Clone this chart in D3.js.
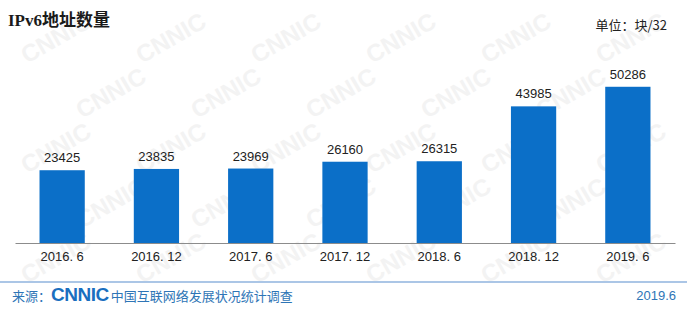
<!DOCTYPE html>
<html><head><meta charset="utf-8">
<script src="https://cdn.jsdelivr.net/npm/d3@7"></script>
<style>body{margin:0;background:#fff}svg{display:block}</style>
</head><body>
<svg id="c" width="700" height="317"></svg>
<script>
const categories = ["2016. 6","2016. 12","2017. 6","2017. 12","2018. 6","2018. 12","2019. 6"];
const values = [23425,23835,23969,26160,26315,43985,50286];
const title = "IPv6地址数量";
const unitLabel = "单位：块/32";
const sourceLabel = "来源：";
const sourceName = "中国互联网络发展状况统计调查";
const dateLabel = "2019.6";

const svg = d3.select("#c");

// faint watermark
const wm = svg.append("g").attr("fill","#f3f3f3").attr("font-family","Arial, sans-serif").attr("font-weight","bold").attr("font-size",24).attr("text-anchor","middle");
for (let r=0;r<5;r++){
  for (let c=0;c<6;c++){
    const cx = 60 + c*115 + (r%2)*55, cy = 45 + r*55;
    if (cx > 650) continue;
    wm.append("text").attr("transform",`translate(${cx},${cy}) rotate(-30)`).text("CNNIC");
  }
}

const x = d3.scaleBand().domain(categories).range([15,675]).paddingInner(0.52).paddingOuter(0.26);
const y = d3.scaleLinear().domain([0,60000]).range([243,56.6]);

svg.append("g").selectAll("rect").data(values).join("rect")
  .attr("x",(d,i)=>x(categories[i]))
  .attr("y",d=>y(d))
  .attr("width",x.bandwidth())
  .attr("height",d=>y(0)-y(d))
  .attr("fill","#0b6fc8");

svg.append("g").selectAll("text").data(values).join("text")
  .attr("x",(d,i)=>x(categories[i])+x.bandwidth()/2)
  .attr("y",d=>y(d)-8)
  .attr("text-anchor","middle")
  .attr("font-family","Arial, 'Liberation Sans', sans-serif")
  .attr("font-size",13).attr("fill","#222")
  .text(d=>d);

const xAxis = svg.append("g").attr("transform","translate(0,243)").call(d3.axisBottom(x).tickSize(0).tickPadding(9));
xAxis.select(".domain").attr("stroke","#8c8c8c").attr("stroke-width",1);
xAxis.selectAll("text").attr("font-family","'Liberation Sans', Arial, sans-serif").attr("font-size",13).attr("fill","#222");

svg.append("text").attr("x",8).attr("y",26)
  .attr("font-family","'Liberation Serif', 'Noto Sans CJK SC', serif")
  .attr("font-weight","bold").attr("font-size",17).attr("fill","#1a1a1a").text(title);

svg.append("text").attr("x",667).attr("y",30).attr("text-anchor","end")
  .attr("font-family","'Noto Sans CJK SC', sans-serif").attr("font-size",13).attr("fill","#222").text(unitLabel);

svg.append("line").attr("x1",0).attr("x2",687).attr("y1",282).attr("y2",282).attr("stroke","#8fb3de").attr("stroke-width",1.5);

const ft = svg.append("text").attr("x",12).attr("y",301).attr("font-family","'Noto Sans CJK SC', sans-serif").attr("font-size",13).attr("fill","#2e75b6");
ft.append("tspan").text(sourceLabel);
ft.append("tspan").attr("font-family","Arial, sans-serif").attr("font-weight","900").attr("font-size",19).attr("fill","#1a6fbf").attr("letter-spacing",-0.5).text("CNNIC");
ft.append("tspan").attr("dx",2).text(sourceName);

svg.append("text").attr("x",676).attr("y",300).attr("text-anchor","end")
  .attr("font-family","Arial, sans-serif").attr("font-size",13).attr("fill","#2e75b6").text(dateLabel);
</script>
</body></html>
